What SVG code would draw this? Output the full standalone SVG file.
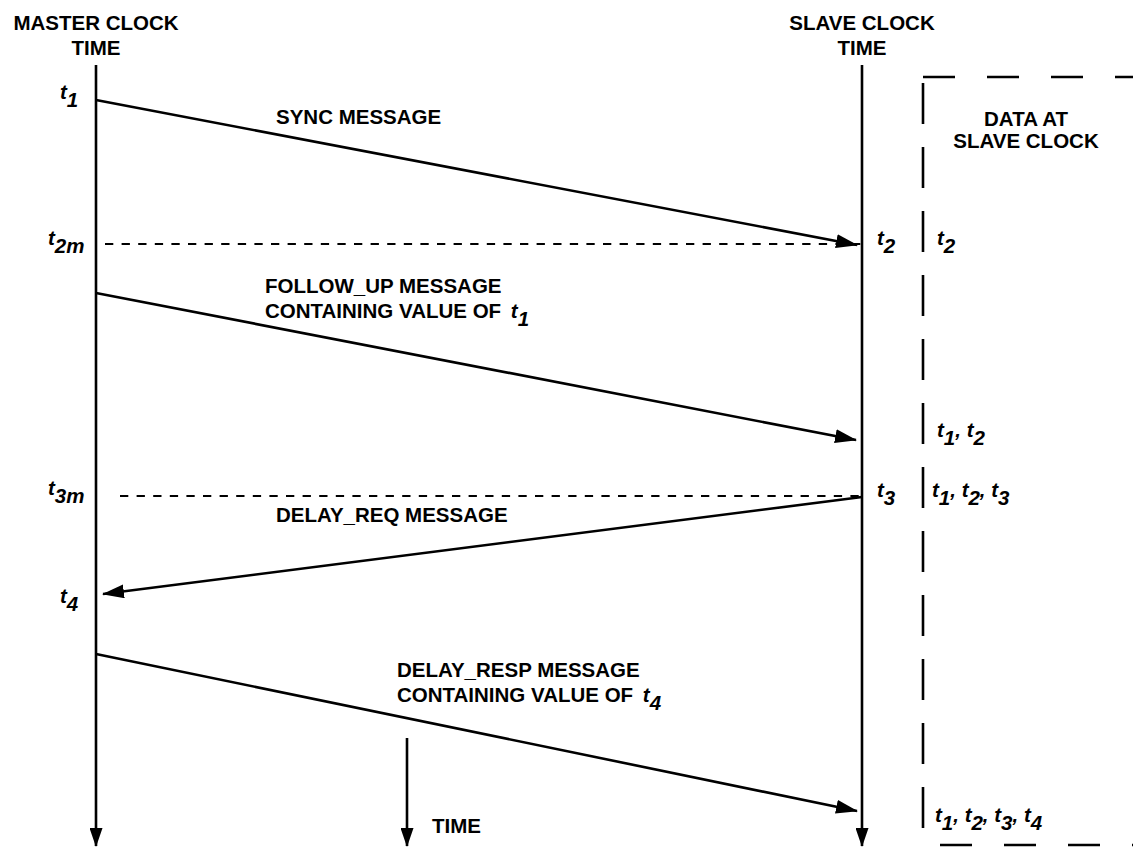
<svg xmlns="http://www.w3.org/2000/svg" width="1133" height="848" viewBox="0 0 1133 848">
<style>
text{font-family:"Liberation Sans",Arial,sans-serif;font-weight:bold;fill:#000;font-size:20.5px}
.h{text-anchor:middle}
.t{font-style:italic}
.ln{stroke:#000;stroke-width:2.6;fill:none}
.dash{stroke:#000;stroke-width:2;fill:none;stroke-dasharray:8.3 8.3}
.box{stroke:#000;stroke-width:2.6;fill:none}
</style>
<defs>
<marker id="ah" viewBox="0 0 22 14" refX="21" refY="7" markerWidth="22" markerHeight="14" markerUnits="userSpaceOnUse" orient="auto"><path d="M0,0 L22,7 L0,14 Z" fill="#000"/></marker>
<marker id="av" viewBox="0 0 19 13" refX="18" refY="6.5" markerWidth="19" markerHeight="13" markerUnits="userSpaceOnUse" orient="auto"><path d="M0,0 L19,6.5 L0,13 Z" fill="#000"/></marker>
</defs>
<g id="master">
<text class="h" x="96" y="30">MASTER CLOCK</text>
<text class="h" x="96" y="55">TIME</text>
<line class="ln" x1="96" y1="65" x2="96" y2="846" marker-end="url(#av)"/>
</g>
<g id="slave">
<text class="h" x="862" y="30">SLAVE CLOCK</text>
<text class="h" x="862" y="55">TIME</text>
<line class="ln" x1="862" y1="65" x2="862" y2="846" marker-end="url(#av)"/>
</g>
<g id="time-axis">
<line class="ln" x1="407" y1="738" x2="407" y2="846" marker-end="url(#av)"/>
<text x="432" y="833">TIME</text>
</g>
<g id="data-box">
<line class="box" x1="923" y1="77" x2="1133" y2="77" stroke-dasharray="32 32"/>
<line class="box" x1="923" y1="83" x2="923" y2="830" stroke-dasharray="41 23"/>
<line class="box" x1="940" y1="845" x2="1133" y2="845" stroke-dasharray="32 32"/>
<text class="h" x="1026" y="126">DATA AT</text>
<text class="h" x="1026" y="148">SLAVE CLOCK</text>
<text class="t" x="937" y="245">t<tspan dy="8">2</tspan></text>
<text class="t" x="937" y="437">t<tspan dy="8">1</tspan><tspan dy="-8">, t</tspan><tspan dy="8">2</tspan></text>
<text class="t" x="932" y="497">t<tspan dy="8">1</tspan><tspan dy="-8">, t</tspan><tspan dy="8">2</tspan><tspan dy="-8">, t</tspan><tspan dy="8">3</tspan></text>
<text class="t" x="935" y="822">t<tspan dy="8">1</tspan><tspan dy="-8">, t</tspan><tspan dy="8">2</tspan><tspan dy="-8">, t</tspan><tspan dy="8">3</tspan><tspan dy="-8">, t</tspan><tspan dy="8">4</tspan></text>
</g>
<g id="time-labels">
<text class="t" x="60" y="99">t<tspan dy="8">1</tspan></text>
<text class="t" x="48" y="245">t<tspan dy="8">2m</tspan></text>
<text class="t" x="48" y="495">t<tspan dy="8">3m</tspan></text>
<text class="t" x="60" y="603">t<tspan dy="8">4</tspan></text>
<text class="t" x="877" y="245">t<tspan dy="8">2</tspan></text>
<text class="t" x="877" y="497">t<tspan dy="8">3</tspan></text>
</g>
<g id="connectors">
<line class="dash" x1="105" y1="244" x2="862" y2="244"/>
<line class="dash" x1="120" y1="496" x2="862" y2="496"/>
<line class="ln" x1="96" y1="100" x2="857" y2="245" marker-end="url(#ah)"/>
<line class="ln" x1="96" y1="293" x2="856" y2="440" marker-end="url(#ah)"/>
<line class="ln" x1="862" y1="497" x2="103" y2="594" marker-end="url(#ah)"/>
<line class="ln" x1="96" y1="654" x2="857" y2="811" marker-end="url(#ah)"/>
</g>
<g id="message-labels">
<text x="276" y="124">SYNC MESSAGE</text>
<text x="265" y="293">FOLLOW_UP MESSAGE</text>
<text x="265" y="318">CONTAINING VALUE OF <tspan class="t" dx="4">t</tspan><tspan class="t" dy="8">1</tspan></text>
<text x="276" y="522">DELAY_REQ MESSAGE</text>
<text x="397" y="677">DELAY_RESP MESSAGE</text>
<text x="397" y="702">CONTAINING VALUE OF <tspan class="t" dx="4">t</tspan><tspan class="t" dy="8">4</tspan></text>
</g>
</svg>
